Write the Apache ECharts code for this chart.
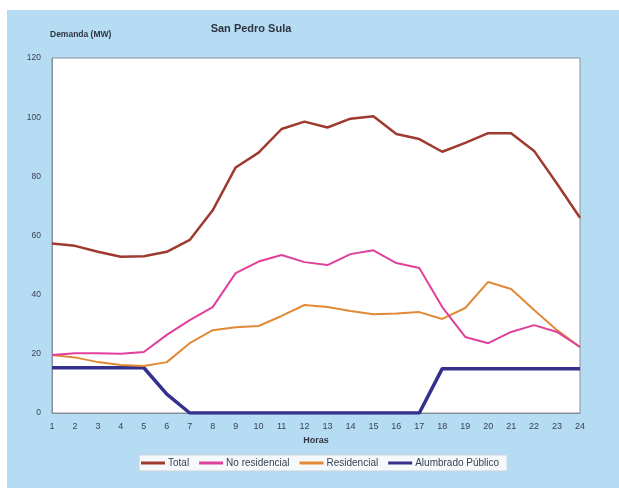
<!DOCTYPE html>
<html>
<head>
<meta charset="utf-8">
<script src="https://cdn.jsdelivr.net/npm/echarts@6/dist/echarts.min.js"></script>
<style>
  html, body { margin: 0; padding: 0; background: #ffffff; }
  #chart { width: 619px; height: 488px; }
</style>
</head>
<body>
<div id="chart"></div>
<script>
// Hourly electricity demand, San Pedro Sula (MW)
const horas = ['1','2','3','4','5','6','7','8','9','10','11','12','13','14','15','16','17','18','19','20','21','22','23','24'];
const total = [57.3, 56.5, 54.5, 52.8, 53, 54.5, 58.5, 68.5, 83, 88, 96, 98.5, 96.5, 99.5, 100.3, 94.3, 92.6, 88.3, 91.3, 94.6, 94.6, 88.6, 77.5, 66];
const noResidencial = [19.6, 20.2, 20.2, 20, 20.6, 26.4, 31.4, 35.8, 47.3, 51.2, 53.4, 51, 50, 53.7, 55, 50.7, 49, 35.8, 25.7, 23.6, 27.4, 29.7, 27.4, 22.3];
const residencial = [19.6, 18.8, 17.2, 16.2, 15.9, 17.2, 23.6, 28, 29, 29.4, 32.8, 36.5, 35.8, 34.5, 33.4, 33.6, 34.1, 31.8, 35.5, 44.3, 41.9, 34.8, 28, 22.3];
const alumbrado = [15.3, 15.3, 15.3, 15.3, 15.3, 6.4, 0, 0, 0, 0, 0, 0, 0, 0, 0, 0, 0, 15, 15, 15, 15, 15, 15, 15];
const yTicks = [0, 20, 40, 60, 80, 100, 120];

const font = 'Liberation Sans, Arial, sans-serif';
const chart = echarts.init(document.getElementById('chart'), null, { renderer: 'canvas' });

function line(name, data, color, width, z) {
  return {
    name, type: 'line', data, color,
    symbol: 'none', smooth: false, z,
    lineStyle: { color, width }
  };
}

chart.setOption({
  backgroundColor: '#ffffff',
  animation: false,
  textStyle: { fontFamily: font },
  graphic: [{
    type: 'rect', z: -100, zlevel: 0, silent: true,
    shape: { x: 7, y: 10, width: 612, height: 478 },
    style: { fill: '#b6dcf4' }
  }],
  title: [{
    text: 'San Pedro Sula',
    left: 251, top: 23, textAlign: 'center', padding: 0,
    textStyle: { fontFamily: font, fontSize: 11, fontWeight: 'bold', color: '#2e3440' }
  }, {
    text: 'Demanda (MW)',
    left: 50, top: 30, padding: 0,
    textStyle: { fontFamily: font, fontSize: 8.5, fontWeight: 'bold', color: '#2e3440' }
  }],
  grid: {
    left: 52, right: 39, top: 58, bottom: 75,
    show: true, backgroundColor: '#ffffff', borderColor: '#8a9098', borderWidth: 1
  },
  xAxis: {
    type: 'category', data: horas, boundaryGap: false,
    name: 'Horas', nameLocation: 'middle', nameGap: 21,
    nameTextStyle: { fontFamily: font, fontSize: 9, fontWeight: 'bold', color: '#2e3440' },
    axisLine: { show: true, lineStyle: { color: '#8a9098' } },
    axisTick: { show: false },
    axisLabel: { fontFamily: font, fontSize: 9, color: '#3a4250', margin: 9, interval: 0 }
  },
  yAxis: {
    type: 'value', min: 0, max: 120, interval: 20,
    axisLine: { show: true, lineStyle: { color: '#8a9098' } },
    axisTick: { show: false },
    splitLine: { show: false },
    axisLabel: {
      fontFamily: font, fontSize: 8.5, color: '#3a4250', margin: 11,
      formatter: v => yTicks.includes(v) ? String(v) : ''
    }
  },
  legend: {
    data: ['Total', 'No residencial', 'Residencial', 'Alumbrado Público'],
    left: 139, top: 455,
    backgroundColor: '#f6f9fc', borderColor: '#c8d2da', borderWidth: 1,
    padding: [3, 8, 3, 2],
    icon: 'rect', itemWidth: 24, itemHeight: 3, itemGap: 10,
    textStyle: { fontFamily: font, fontSize: 10, color: '#3a4250', padding: [0, 0, 0, -2] }
  },
  series: [
    line('Total', total, '#9e3a30', 2.5, 4),
    line('No residencial', noResidencial, '#e0409c', 2, 3),
    line('Residencial', residencial, '#e08a38', 2, 2),
    line('Alumbrado Público', alumbrado, '#34308c', 3.5, 1)
  ]
});
</script>
</body>
</html>
